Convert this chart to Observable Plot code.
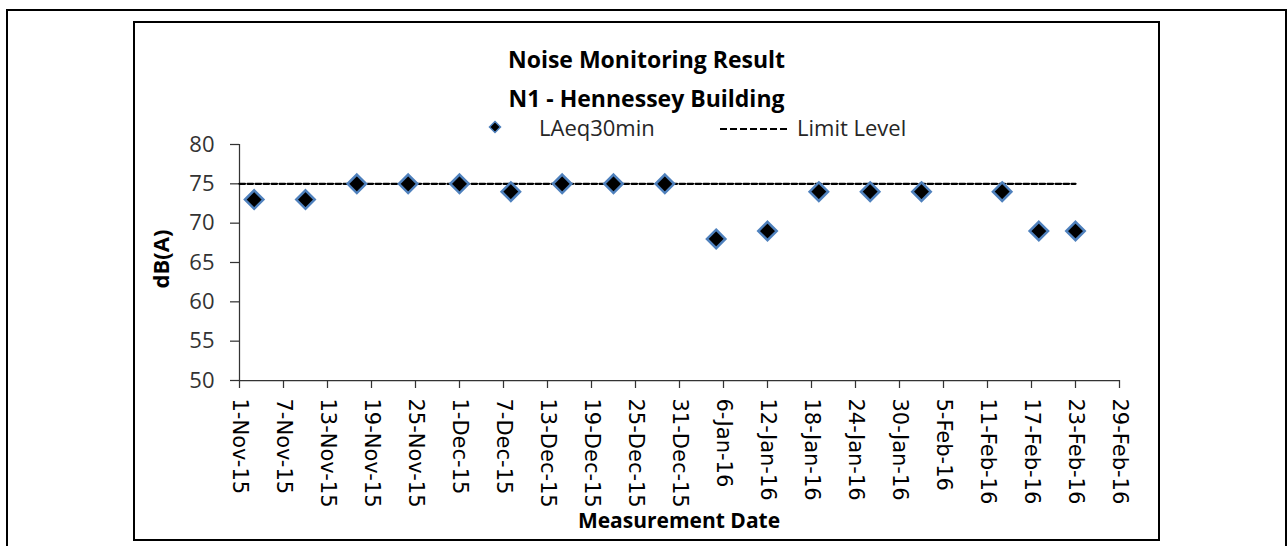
<!DOCTYPE html>
<html>
<head>
<meta charset="utf-8">
<script src="https://cdn.jsdelivr.net/npm/d3@7"></script>
<script src="https://cdn.jsdelivr.net/npm/@observablehq/plot@0.6"></script>
<style>
  body { margin: 0; background: #fff; }
  #wrap { position: relative; width: 1288px; height: 546px; overflow: hidden; font-family: "Open Sans", Lato, sans-serif; }
  .abs { position: absolute; }
  .box { position: absolute; box-sizing: border-box; border: 2px solid #000; }
  #chart { position: absolute; left: 0; top: 0; }
  .title { position: absolute; left: 134px; width: 1025px; text-align: center; font-weight: 700; font-size: 23px; line-height: 39px; color: #000; white-space: nowrap; }
  .legtext { position: absolute; font-size: 22px; color: #262626; white-space: nowrap; line-height: 26px; }
  #ylabel { position: absolute; font-weight: 700; font-size: 22px; line-height: 26px; color: #000; white-space: nowrap; transform: translate(-50%, -50%) rotate(-90deg); left: 160px; top: 259px; }
  #xlabel { position: absolute; font-weight: 700; font-size: 21px; color: #000; white-space: nowrap; left: 239px; width: 880px; text-align: center; top: 507px; line-height: 26px; }
</style>
</head>
<body>
<div id="wrap">
  <div id="chart"></div>
  <div class="box" style="left:6px;top:9px;width:1281px;height:600px;"></div>
  <div class="box" style="left:133px;top:21px;width:1027px;height:520px;border-width:2.5px;"></div>
  <div class="title" style="top:40px;">Noise Monitoring Result</div>
  <div class="title" style="top:79px;">N1 - Hennessey Building</div>
  <svg class="abs" style="left:485px;top:117px;" width="20" height="20">
    <polygon points="10,4.5 15.5,10 10,15.5 4.5,10" fill="#000" stroke="#4F81BD" stroke-width="1.5"/>
  </svg>
  <div class="legtext" style="left:539px;top:114px;">LAeq30min</div>
  <svg class="abs" style="left:718px;top:120px;" width="74" height="16">
    <line x1="2" y1="9" x2="72" y2="9" stroke="#000" stroke-width="2.2" stroke-dasharray="7,3"/>
  </svg>
  <div class="legtext" style="left:797px;top:114px;">Limit Level</div>
  <div id="ylabel">dB(A)</div>
  <div id="xlabel">Measurement Date</div>
</div>
<script>
// ---- Data ----
const measureDates = [
  "2015-11-03", "2015-11-10", "2015-11-17", "2015-11-24", "2015-12-01",
  "2015-12-08", "2015-12-15", "2015-12-22", "2015-12-29", "2016-01-05",
  "2016-01-12", "2016-01-19", "2016-01-26", "2016-02-02", "2016-02-13",
  "2016-02-18", "2016-02-23"
];
const laeqValues = [73, 73, 75, 75, 75, 74, 75, 75, 75, 68, 69, 74, 74, 74, 74, 69, 69];

const limitDates = ["2015-11-01", "2016-02-23"];
const limitValues = [75, 75];

const xTickLabels = [
  "1-Nov-15", "7-Nov-15", "13-Nov-15", "19-Nov-15", "25-Nov-15", "1-Dec-15",
  "7-Dec-15", "13-Dec-15", "19-Dec-15", "25-Dec-15", "31-Dec-15", "6-Jan-16",
  "12-Jan-16", "18-Jan-16", "24-Jan-16", "30-Jan-16", "5-Feb-16", "11-Feb-16",
  "17-Feb-16", "23-Feb-16", "29-Feb-16"
];
const yTicks = [50, 55, 60, 65, 70, 75, 80];
const yDomain = [50, 80];

// ---- Build ----
const parseIso = d3.utcParse("%Y-%m-%d");
const parseTick = d3.utcParse("%d-%b-%y");
const xTicks = xTickLabels.map(parseTick);
const fmtTick = d3.utcFormat("%-d-%b-%y");

const points = measureDates.map((d, i) => ({date: parseIso(d), value: laeqValues[i]}));
const limit = limitDates.map((d, i) => ({date: parseIso(d), value: limitValues[i]}));
const xDomain = [xTicks[0], xTicks[xTicks.length - 1]];

const chart = Plot.plot({
  width: 1288,
  height: 546,
  marginLeft: 239,
  marginRight: 169,
  marginTop: 144,
  marginBottom: 166,
  style: {background: "transparent", overflow: "visible"},
  x: {type: "utc", domain: xDomain},
  y: {domain: yDomain},
  marks: [
    Plot.axisY({
      ticks: yTicks, tickSize: 9, tickPadding: 16, label: null,
      fontSize: 22, fontFamily: "'Open Sans', sans-serif",
      color: "#333", stroke: "#333", strokeWidth: 1.25
    }),
    Plot.axisX({
      ticks: xTicks, tickFormat: fmtTick, tickSize: 8, tickPadding: 10, tickRotate: 90,
      label: null, fontSize: 21, fontFamily: "'DejaVu Sans', sans-serif",
      color: "#000", stroke: "#333", strokeWidth: 1.25
    }),
    Plot.ruleY([yDomain[0]], {x1: xDomain[0], x2: xDomain[1], stroke: "#333", strokeWidth: 1.25}),
    Plot.ruleX([xDomain[0]], {y1: yDomain[0], y2: yDomain[1], stroke: "#333", strokeWidth: 1.25}),
    Plot.line(limit, {x: "date", y: "value", stroke: "#000", strokeWidth: 2.3, strokeDasharray: "5.5,2.5"}),
    Plot.dot(points, {x: "date", y: "value", symbol: "diamond2", r: 8.3, fill: "#000", stroke: "#4F81BD", strokeWidth: 2.5})
  ]
});
document.getElementById("chart").appendChild(chart);
</script>
</body>
</html>
